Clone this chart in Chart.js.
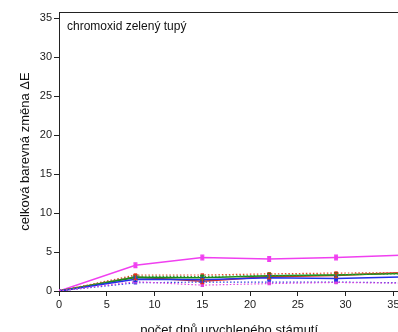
<!DOCTYPE html>
<html>
<head>
<meta charset="utf-8">
<script src="https://cdn.jsdelivr.net/npm/chart.js@4/dist/chart.umd.min.js"></script>
<style>
  html, body { margin: 0; padding: 0; background: #fff; overflow: hidden; }
  #wrap { width: 405px; height: 342px; }
</style>
</head>
<body>
<div id="wrap"><canvas id="graf"></canvas></div>
<script>
// dny stárnutí a naměřené ΔE
const dny = [0, 8, 15, 22, 29, 36];
const yTicks = [0, 5, 10, 15, 20, 25, 30, 35];
const xTicks = [0, 5, 10, 15, 20, 25, 30, 35];

const magentaPlna = [0, 3.3, 4.3, 4.1, 4.3, 4.6];
const cervenaPlna = [0, 1.8, 1.25, 1.85, 2.0, 2.35];
const zelenaPlna = [0, 1.75, 1.7, 1.95, 2.05, 2.25];
const modraPlna = [0, 1.5, 1.45, 1.7, 1.6, 1.8];
const cervenaTeck = [0, 2.05, 2.05, 2.2, 2.3, 2.35];
const zelenaTeck = [0, 1.9, 1.85, 2.0, 2.1, 2.2];
const modraTeck = [0, 1.05, 1.15, 1.15, 1.15, 1.05];
const magentaTeck = [0, 1.2, 0.75, 0.95, 1.1, 1.0];
const chyba = [0, 0.3, 0.3, 0.3, 0.3, 0.3];

const pismo = '"Liberation Sans", Arial, sans-serif';

function body(hodnoty) {
  return dny.map((d, i) => ({ x: d, y: hodnoty[i] }));
}

function rada(label, hodnoty, barva, teckovana) {
  return {
    label: label,
    data: body(hodnoty),
    borderColor: barva,
    backgroundColor: barva,
    borderWidth: teckovana ? 1.2 : 1.6,
    borderDash: teckovana ? [1.5, 2] : [],
    pointRadius: 1.6,
    pointStyle: 'rect',
    tension: 0,
    chyby: !teckovana
  };
}

// chybové úsečky + horní rámeček + popisek vzorku
const doplnky = {
  id: 'doplnky',
  afterDatasetsDraw(chart) {
    const { ctx, chartArea, scales } = chart;
    ctx.save();
    ctx.beginPath();
    ctx.rect(chartArea.left, chartArea.top, chartArea.right - chartArea.left, chartArea.bottom - chartArea.top + 2);
    ctx.clip();
    chart.data.datasets.forEach(ds => {
      if (!ds.chyby) return;
      ctx.strokeStyle = ds.borderColor;
      ctx.lineWidth = 1.2;
      ds.data.forEach((p, i) => {
        if (!chyba[i]) return;
        const x = scales.x.getPixelForValue(p.x);
        const y1 = scales.y.getPixelForValue(p.y - chyba[i]);
        const y2 = scales.y.getPixelForValue(p.y + chyba[i]);
        ctx.beginPath();
        ctx.moveTo(x, y1); ctx.lineTo(x, y2);
        ctx.moveTo(x - 2, y1); ctx.lineTo(x + 2, y1);
        ctx.moveTo(x - 2, y2); ctx.lineTo(x + 2, y2);
        ctx.stroke();
      });
    });
    ctx.restore();

    ctx.save();
    ctx.strokeStyle = '#222';
    ctx.lineWidth = 1;
    ctx.beginPath();
    ctx.moveTo(chartArea.left, chartArea.top + 0.5);
    ctx.lineTo(chartArea.right, chartArea.top + 0.5);
    ctx.stroke();
    ctx.fillStyle = '#111';
    ctx.font = '12px ' + pismo;
    ctx.textBaseline = 'alphabetic';
    ctx.fillText('chromoxid zelený tupý', chartArea.left + 8, chartArea.top + 18);
    ctx.restore();
  }
};

new Chart(document.getElementById('graf'), {
  type: 'line',
  data: {
    datasets: [
      rada('A', magentaTeck, '#e040e0', true),
      rada('B', modraTeck, '#3040e0', true),
      rada('C', zelenaTeck, '#30a030', true),
      rada('D', cervenaTeck, '#f04030', true),
      rada('E', modraPlna, '#2030e8', false),
      rada('F', zelenaPlna, '#1a8a1a', false),
      rada('G', cervenaPlna, '#e03020', false),
      rada('H', magentaPlna, '#f040f0', false)
    ]
  },
  options: {
    responsive: true,
    maintainAspectRatio: false,
    animation: false,
    layout: { padding: { top: 12, left: 0, right: 0, bottom: 0 } },
    plugins: { legend: { display: false }, tooltip: { enabled: false } },
    scales: {
      x: {
        type: 'linear',
        min: 0,
        max: 35.63,
        afterBuildTicks: s => { s.ticks = xTicks.map(v => ({ value: v })); },
        afterFit: s => { s.height = 51; },
        border: { color: '#222', width: 1 },
        grid: { drawOnChartArea: false, tickLength: 5, color: '#222' },
        ticks: { color: '#222', padding: 2, font: { size: 11, family: pismo } },
        title: { display: true, text: 'počet dnů urychleného stámutí', color: '#111', padding: { top: 5 }, font: { size: 13, family: pismo } }
      },
      y: {
        min: 0,
        max: 35.8,
        afterBuildTicks: s => { s.ticks = yTicks.map(v => ({ value: v })); },
        afterFit: s => { s.width = 59; },
        border: { color: '#222', width: 1 },
        grid: { drawOnChartArea: false, tickLength: 5, color: '#222' },
        ticks: { color: '#222', padding: 2, font: { size: 11, family: pismo } },
        title: { display: true, text: 'celková barevná změna ΔE', color: '#111', padding: { top: 18, bottom: 0 }, font: { size: 13, family: pismo } }
      }
    }
  },
  plugins: [doplnky]
});
</script>
</body>
</html>
